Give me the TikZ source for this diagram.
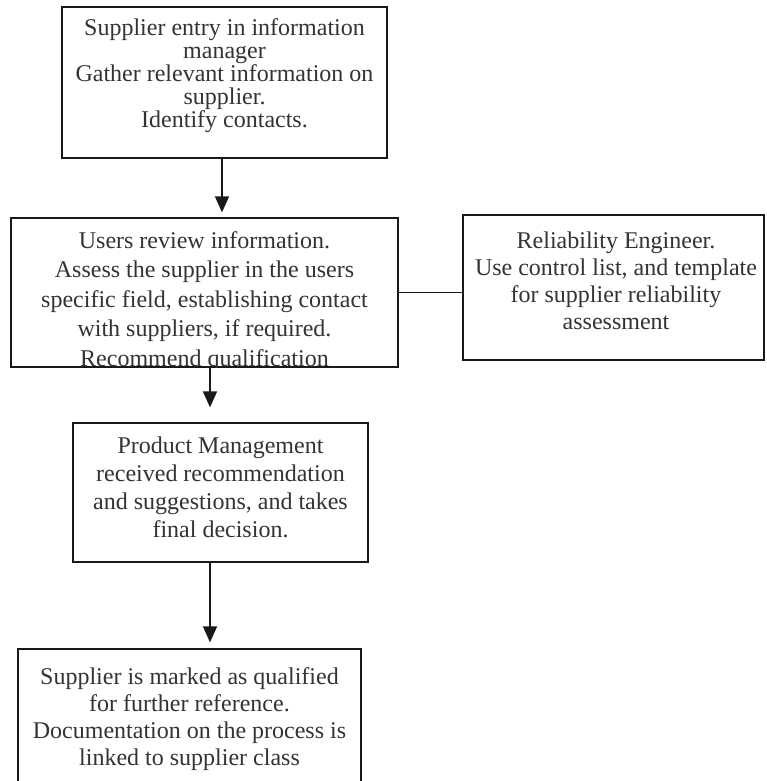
\documentclass[tikz,border=0pt]{standalone}
\usepackage{fontspec}
\setmainfont{Liberation Serif}
\usetikzlibrary{arrows.meta,calc}
\begin{document}
\begin{tikzpicture}[x=1pt,y=-1pt,
  box/.style={draw=black!90, line width=1.3pt, rectangle, inner sep=0pt},
  txt/.style={align=center, inner sep=0pt, anchor=north, text=black!80},
  arr/.style={draw=black!90, line width=1.4pt, -{Triangle[width=14pt,length=16pt]}},
  link/.style={draw=black!90, line width=1.2pt}]
\clip (0,0) rectangle (766,781);
\fill[white] (0,0) rectangle (766,781);

\node[box, minimum width=325pt, minimum height=151pt] (b1) at (224.5,82.5) {};
\node[box, minimum width=387pt, minimum height=149pt] (b2) at (204.5,292.5) {};
\node[box, minimum width=301pt, minimum height=145pt] (b4) at (613.5,287.5) {};
\node[box, minimum width=295pt, minimum height=139pt] (b3) at (220.5,492.5) {};
\node[box, minimum width=343pt, minimum height=151pt] (b5) at (189.5,724.5) {};

\node[txt, font=\fontsize{24}{23}\selectfont] (t1) at (224.5,18)
  {Supplier entry in information\\manager\\Gather relevant information on\\supplier.\\Identify contacts.};
\begin{scope}
\clip (b2.south west) rectangle (b2.north east);
\node[txt, font=\fontsize{24}{29.5}\selectfont] (t2) at (204.5,231)
  {Users review information.\\Assess the supplier in the users\\specific field, establishing contact\\with suppliers, if required.\\Recommend qualification};
\end{scope}
\node[txt, font=\fontsize{24}{27}\selectfont] (t4) at (616,231.5)
  {Reliability Engineer.\\Use control list, and template\\for supplier reliability\\assessment};
\node[txt, font=\fontsize{24}{28}\selectfont] (t3) at (220.5,437)
  {Product Management\\received recommendation\\and suggestions, and takes\\final decision.};
\node[txt, font=\fontsize{24}{27}\selectfont] (t5) at (189.5,667)
  {Supplier is marked as qualified\\for further reference.\\Documentation on the process is\\linked to supplier class};

\draw[arr, shorten >=5pt] ([xshift=-2.5pt]b1.south) -- ([xshift=-2.5pt]b1.south |- b2.north);
\draw[arr, shorten >=15pt] ([xshift=5.5pt]b2.south) -- ([xshift=5.5pt]b2.south |- b3.north);
\draw[arr, shorten >=6pt] ([xshift=-10.5pt]b3.south) -- ([xshift=-10.5pt]b3.south |- b5.north);
\draw[link] (b2.east) -- (b2.east -| b4.west);
\end{tikzpicture}
\end{document}
